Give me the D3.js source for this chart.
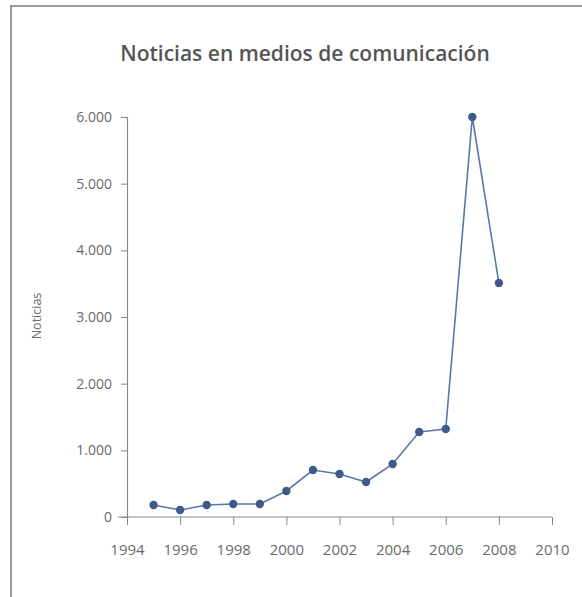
<!DOCTYPE html>
<html>
<head>
<meta charset="utf-8">
<script src="https://cdn.jsdelivr.net/npm/d3@7"></script>
<style>
  html, body { margin: 0; padding: 0; background: #fff; }
  svg { display: block; }
</style>
</head>
<body>
<svg id="chart" width="582" height="597"></svg>
<script>
const title = "Noticias en medios de comunicación";
const yTitle = "Noticias";
const years = [1995, 1996, 1997, 1998, 1999, 2000, 2001, 2002, 2003, 2004, 2005, 2006, 2007, 2008];
const noticias = [180, 105, 180, 195, 195, 390, 705, 645, 525, 795, 1275, 1320, 6000, 3510];
const xTicks = [1994, 1996, 1998, 2000, 2002, 2004, 2006, 2008, 2010];
const yTicks = [0, 1000, 2000, 3000, 4000, 5000, 6000];

const svg = d3.select("#chart");
const W = 582, H = 597;

// frame
svg.append("rect")
  .attr("x", 11).attr("y", 6)
  .attr("width", W + 20).attr("height", H + 20)
  .attr("fill", "#fff")
  .attr("stroke", "#9a9a9a").attr("stroke-width", 2);

const x = d3.scaleLinear().domain([1994, 2010]).range([127, 552]);
const y = d3.scaleLinear().domain([0, 6000]).range([517, 117]);

const fmt = v => d3.format(",")(v).replace(/,/g, ".");
const font = "'Open Sans', sans-serif";

// title
svg.append("text")
  .attr("x", 305).attr("y", 61)
  .attr("text-anchor", "middle")
  .attr("font-family", font)
  .attr("font-weight", 600)
  .attr("font-size", 21)
  .attr("fill", "#555")
  .text(title);

// y axis
const yAxis = svg.append("g")
  .attr("transform", `translate(${x(1994)},0)`)
  .call(d3.axisLeft(y).tickValues(yTicks).tickFormat(fmt).tickSize(6).tickPadding(9));
yAxis.select(".domain").attr("stroke", "#8a8a8a").attr("stroke-width", 1.2);
yAxis.selectAll(".tick line").attr("stroke", "#8a8a8a");
yAxis.selectAll(".tick text")
  .attr("font-family", font)
  .attr("font-size", 14)
  .attr("fill", "#6a6a6a");

// x axis
const xAxis = svg.append("g")
  .attr("transform", `translate(0,${y(0)})`)
  .call(d3.axisBottom(x).tickValues(xTicks).tickFormat(d3.format("d")).tickSize(8).tickPadding(19));
xAxis.select(".domain")
  .attr("d", `M${x(1994) - 9},0H${x(2010)}`)
  .attr("stroke", "#8a8a8a").attr("stroke-width", 1.2);
xAxis.selectAll(".tick line").attr("stroke", "#8a8a8a");
xAxis.selectAll(".tick text")
  .attr("font-family", font)
  .attr("font-size", 15)
  .attr("fill", "#6a6a6a");

// y title
svg.append("text")
  .attr("transform", `translate(41,316) rotate(-90)`)
  .attr("text-anchor", "middle")
  .attr("font-family", font)
  .attr("font-size", 12.5)
  .attr("fill", "#6a6a6a")
  .text(yTitle);

const data = years.map((yr, i) => ({ yr, v: noticias[i] }));

svg.append("path")
  .datum(data)
  .attr("fill", "none")
  .attr("stroke", "#5878ac")
  .attr("stroke-width", 1.6)
  .attr("d", d3.line().x(d => x(d.yr)).y(d => y(d.v)));

svg.selectAll("circle.pt")
  .data(data)
  .enter().append("circle")
  .attr("class", "pt")
  .attr("cx", d => x(d.yr))
  .attr("cy", d => y(d.v))
  .attr("r", 4.2)
  .attr("fill", "#3e5a88");
</script>
</body>
</html>
